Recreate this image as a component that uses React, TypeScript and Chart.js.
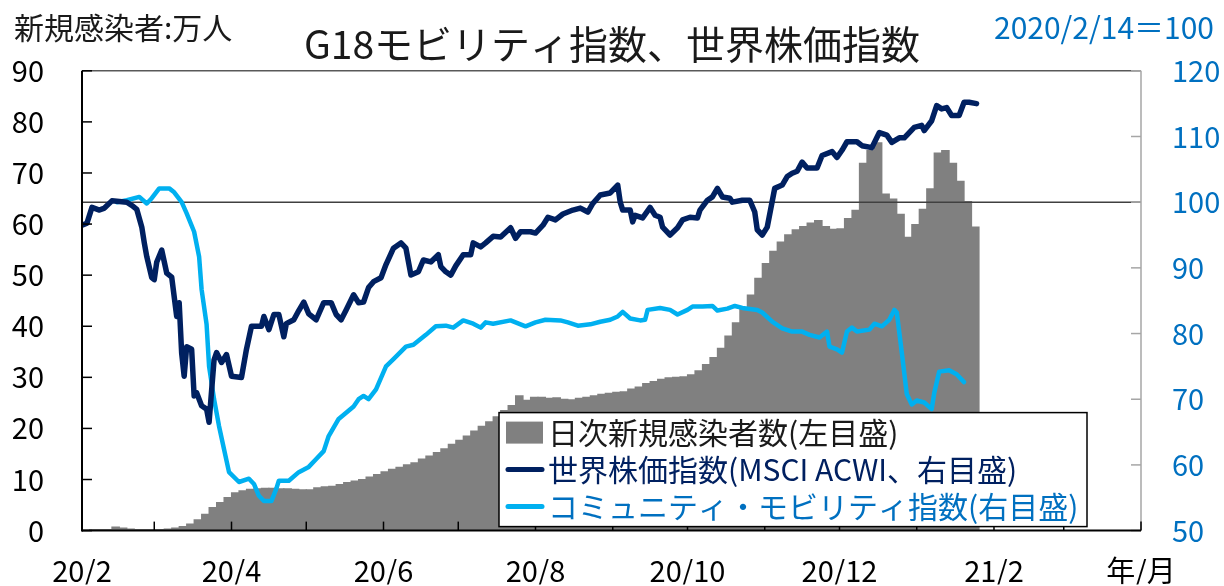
import React, { useEffect, useRef } from "react";
import { Chart, registerables } from "chart.js";

Chart.register(...registerables);

const FONT = '"Noto Sans CJK JP", "Noto Sans", sans-serif';

// ---- data (x = days since 2020/2/1) ----
// daily new infections (万人), one bar per 3-day period starting 2020/2/1
const caseStartDay = 0;
const caseStepDays = 3;
const dailyCases = [
  0.2, 0.3, 0.3, 0.3, 0.8, 0.6, 0.4, 0.3, 0.3, 0.3,
  0.3, 0.4, 0.6, 0.9, 1.4, 2.2, 3.3, 4.6, 5.6, 6.6,
  7.5, 7.9, 8.2, 8.3, 8.4, 8.4, 8.3, 8.3, 8.2, 8.1,
  8.1, 8.5, 8.7, 8.8, 9.1, 9.5, 9.8, 10.1, 10.6, 11.1,
  11.6, 12.1, 12.5, 13.0, 13.4, 14.1, 14.7, 15.4, 16.1, 17.0,
  17.8, 18.6, 19.6, 20.5, 21.4, 22.4, 23.6, 24.6, 26.5, 25.6,
  26.2, 26.2, 26.0, 26.1, 25.8, 25.7, 26.0, 26.2, 26.5, 26.8,
  27.0, 27.2, 27.3, 27.8, 28.2, 28.9, 29.3, 29.7, 30.0, 30.1,
  30.2, 30.6, 31.4, 32.6, 34.0, 35.8, 38.2, 40.8, 43.5, 46.2,
  49.5, 52.4, 54.8, 56.6, 58.0, 59.0, 59.6, 60.3, 60.8, 59.6,
  59.1, 59.2, 61.2, 62.8, 72.0, 74.5, 76.0, 66.0, 65.0, 62.0,
  57.5, 60.0, 63.0, 67.0, 74.0, 74.5, 72.0, 68.5, 64.5, 59.5,
];

// MSCI ACWI (2020/2/14 = 100)
const msciDays = [
  0, 2, 4, 7, 9, 12, 18, 20, 22, 24,
  25, 26, 28, 29, 30, 32, 34, 36, 38, 39,
  40, 41, 42, 44, 45, 46, 48, 50, 51, 53,
  54, 56, 58, 60, 64, 66, 68, 72, 73, 75,
  77, 79, 81, 82, 85, 87, 89, 91, 94, 97,
  100, 102, 104, 106, 109, 111, 113, 115, 117, 120,
  122, 125, 128, 130, 132, 135, 137, 140, 143, 144,
  146, 148, 150, 153, 156, 157, 160, 162, 165, 168,
  172, 174, 176, 180, 182, 185, 187, 190, 193, 197,
  200, 203, 205, 208, 212, 215, 216, 217, 220, 221,
  222, 225, 228, 230, 232, 233, 236, 239, 241, 244,
  247, 248, 251, 253, 255, 257, 260, 261, 265, 268,
  270, 271, 273, 275, 278, 281, 283, 285, 287, 289,
  291, 295, 297, 301, 303, 305, 307, 311, 313, 317,
  320, 323, 325, 328, 330, 334, 337, 338, 341, 343,
  345, 347, 349, 352, 354, 356, 359,
];
const msciValues = [
  96.5, 96.8, 99.2, 98.8, 99.1, 100.2, 100.0, 99.5, 98.9, 96.2,
  93.8, 91.7, 88.5, 88.2, 90.9, 92.7, 89.2, 88.6, 82.6, 84.7,
  77.0, 73.5, 78.0, 77.6, 70.5, 71.0, 69.0, 68.5, 66.5, 76.0,
  77.1, 75.6, 76.8, 73.5, 73.3, 77.6, 81.1, 81.1, 82.6, 80.6,
  82.9, 82.9, 79.5, 81.5, 82.1, 83.5, 84.8, 83.0, 82.1, 84.7,
  84.7, 82.9, 82.1, 83.6, 85.9, 84.7, 84.8, 87.0, 87.9, 88.5,
  90.5, 93.0, 93.8, 93.0, 88.9, 89.4, 91.2, 90.9, 92.0, 90.2,
  89.4, 88.9, 90.3, 92.0, 92.0, 93.8, 93.2, 93.8, 94.8, 94.7,
  96.1, 94.5, 95.5, 95.5, 95.3, 96.5, 97.7, 97.3, 98.2, 98.8,
  99.1, 98.5, 99.8, 101.1, 101.4, 102.6, 100.0, 98.8, 98.8, 97.0,
  98.0, 97.6, 99.2, 98.0, 97.7, 96.2, 95.0, 96.1, 97.3, 97.7,
  97.6, 98.8, 100.3, 100.8, 102.1, 100.8, 100.6, 100.0, 100.3, 100.3,
  98.5, 95.8, 95.0, 96.2, 102.1, 102.6, 103.9, 104.4, 104.7, 106.1,
  105.2, 105.2, 107.1, 107.7, 106.8, 107.9, 109.2, 109.2, 108.6, 108.3,
  110.6, 110.2, 109.1, 109.8, 109.8, 111.4, 111.7, 110.9, 112.4, 114.7,
  114.2, 114.4, 113.2, 113.2, 115.2, 115.2, 115.0,
];

// Community mobility index (2020/2/14 = 100)
const mobilityDays = [
  14, 18, 23, 26, 28, 31, 35, 37, 40, 42,
  45, 47, 48, 50, 51, 53, 55, 57, 59, 63,
  67, 69, 71, 73, 76, 78, 79, 83, 87, 91,
  94, 97, 99, 103, 109, 111, 113, 115, 118, 122,
  125, 130, 133, 138, 142, 146, 149, 153, 157, 160,
  162, 165, 172, 176, 178, 182, 186, 192, 195, 199,
  204, 208, 212, 215, 217, 220, 224, 226, 227, 232,
  236, 239, 243, 245, 249, 253, 255, 259, 262, 265,
  271, 273, 277, 281, 285, 289, 292, 296, 299, 300,
  303, 305, 307, 309, 311, 316, 318, 321, 324, 326,
  327, 329, 331, 333, 335, 338, 341, 342, 344, 348,
  351, 354,
];
const mobilityValues = [
  100.0, 100.3, 100.8, 99.8, 100.6, 102.1, 102.1, 101.5, 100.0, 98.3,
  95.5, 91.7, 86.7, 81.4, 75.0, 70.0, 65.9, 62.4, 58.9, 57.4,
  57.9, 57.1, 55.3, 54.5, 54.5, 56.4, 57.6, 57.6, 58.9, 59.7,
  60.9, 62.1, 64.4, 67.0, 68.9, 70.0, 70.5, 70.0, 71.5, 75.0,
  76.1, 78.0, 78.3, 79.8, 81.1, 81.2, 80.9, 82.0, 81.5, 80.9,
  81.7, 81.5, 82.0, 81.4, 81.1, 81.7, 82.1, 82.0, 81.7, 81.2,
  81.4, 81.8, 82.1, 82.6, 83.3, 82.3, 82.0, 82.1, 83.6, 83.9,
  83.6, 82.9, 83.6, 84.1, 84.1, 84.2, 83.5, 83.8, 84.2, 83.9,
  83.6, 83.2, 81.8, 80.8, 80.3, 80.3, 79.8, 79.4, 80.3, 78.0,
  77.6, 77.1, 80.3, 80.9, 80.3, 80.6, 81.5, 81.1, 82.1, 83.6,
  83.2, 77.1, 70.8, 69.2, 69.8, 69.5, 68.5, 70.9, 74.2, 74.4,
  73.8, 72.6,
];

const baseLevel = 100;
const xTickLabels = ["20/2", "20/4", "20/6", "20/8", "20/10", "20/12", "21/2", "年/月"];
const seriesLabels = [
  "日次新規感染者数(左目盛)",
  "世界株価指数(MSCI ACWI、右目盛)",
  "コミュニティ・モビリティ指数(右目盛)",
];
const titleText = "G18モビリティ指数、世界株価指数";
const leftUnitText = "新規感染者:万人";
const rightUnitText = "2020/2/14＝100";

// ---- styles ----
const GRAY = "#808080";
const NAVY = "#002060";
const CYAN = "#00b0f0";
const BLUE_TEXT = "#0070c0";

const DAY_MS = 86400000;
const monthStarts: number[] = [];
for (let m = 1; m <= 15; m++) {
  monthStarts.push(Math.round((Date.UTC(2020, m, 1) - Date.UTC(2020, 1, 1)) / DAY_MS));
}

const axesPlugin = {
  id: "axesDraw",
  afterDatasetsDraw(chart: any) {
    const { ctx, chartArea: a, scales } = chart;
    const line = (x1: number, y1: number, x2: number, y2: number) => {
      ctx.beginPath();
      ctx.moveTo(x1, y1);
      ctx.lineTo(x2, y2);
      ctx.stroke();
    };
    ctx.save();
    ctx.lineWidth = 1.5;
    ctx.strokeStyle = "#595959";
    line(a.left, a.top, a.right, a.top);
    ctx.strokeStyle = "#a6a6a6";
    line(a.right, a.top, a.right, a.bottom);
    scales.yR.ticks.forEach((t: any) => {
      const y = scales.yR.getPixelForValue(t.value);
      line(a.right - 10, y, a.right, y);
    });
    ctx.strokeStyle = "#000";
    ctx.lineWidth = 2;
    line(a.left, a.top, a.left, a.bottom + 1);
    line(a.left, a.bottom, a.right, a.bottom);
    ctx.lineWidth = 1.5;
    scales.yL.ticks.forEach((t: any) => {
      const y = scales.yL.getPixelForValue(t.value);
      line(a.left, y, a.left + 10, y);
    });
    scales.x.ticks.forEach((t: any) => {
      const x = scales.x.getPixelForValue(t.value);
      line(x, a.bottom, x, a.bottom - 9);
    });
    ctx.restore();
  },
};

const textPlugin = {
  id: "cornerTexts",
  afterDraw(chart: any) {
    const { ctx, chartArea: a } = chart;
    ctx.save();
    ctx.font = `30px ${FONT}`;
    ctx.textBaseline = "middle";
    ctx.fillStyle = "#1a1a1a";
    ctx.textAlign = "left";
    ctx.fillText(leftUnitText, 14, 28);
    ctx.fillStyle = BLUE_TEXT;
    ctx.textAlign = "right";
    ctx.fillText(rightUnitText, 1214, 28);

    // legend box
    const w = 588;
    const h = 114;
    const x0 = a.right - 54 - w;
    const y0 = a.bottom - 4 - h;
    ctx.fillStyle = "#fff";
    ctx.fillRect(x0, y0, w, h);
    ctx.strokeStyle = "#000";
    ctx.lineWidth = 1.5;
    ctx.strokeRect(x0, y0, w, h);
    const rows = [y0 + 20, y0 + 57, y0 + 94];
    const textColors = ["#1a1a1a", NAVY, BLUE_TEXT];
    ctx.textAlign = "left";
    ctx.font = `30px ${FONT}`;
    seriesLabels.forEach((lab, i) => {
      const cy = rows[i];
      if (i === 0) {
        ctx.fillStyle = GRAY;
        ctx.fillRect(x0 + 7, cy - 11, 37, 22);
      } else {
        ctx.strokeStyle = i === 1 ? NAVY : CYAN;
        ctx.lineWidth = 5;
        ctx.lineCap = "round";
        ctx.beginPath();
        ctx.moveTo(x0 + 9, cy);
        ctx.lineTo(x0 + 43, cy);
        ctx.stroke();
      }
      ctx.fillStyle = textColors[i];
      ctx.fillText(lab, x0 + 49, cy);
    });
    ctx.restore();
  },
};

export default function App() {
  const ref = useRef<HTMLCanvasElement | null>(null);
  useEffect(() => {
    if (!ref.current) return;
    const barData = dailyCases.map((v, i) => ({ x: caseStartDay + i * caseStepDays + caseStepDays / 2, y: v }));
    const msciData = msciDays.map((d, i) => ({ x: d, y: msciValues[i] }));
    const mobData = mobilityDays.map((d, i) => ({ x: d, y: mobilityValues[i] }));
    const lastDay = monthStarts[monthStarts.length - 1];
    const chart = new Chart(ref.current, {
      type: "bar",
      data: {
        datasets: [
          {
            type: "line",
            label: seriesLabels[1],
            data: msciData,
            yAxisID: "yR",
            borderColor: NAVY,
            borderWidth: 5.5,
            pointRadius: 0,
            tension: 0,
            borderJoinStyle: "round",
            borderCapStyle: "round",
            order: 0,
          } as any,
          {
            type: "line",
            label: seriesLabels[2],
            data: mobData,
            yAxisID: "yR",
            borderColor: CYAN,
            borderWidth: 4.5,
            pointRadius: 0,
            tension: 0,
            borderJoinStyle: "round",
            borderCapStyle: "round",
            order: 1,
          } as any,
          {
            type: "line",
            label: "",
            data: [
              { x: 0, y: baseLevel },
              { x: lastDay, y: baseLevel },
            ],
            yAxisID: "yR",
            borderColor: "#404040",
            borderWidth: 1.5,
            pointRadius: 0,
            order: 2,
          } as any,
          {
            type: "bar",
            label: seriesLabels[0],
            data: barData,
            yAxisID: "yL",
            backgroundColor: GRAY,
            borderWidth: 0,
            barPercentage: 1.15,
            categoryPercentage: 1,
            inflateAmount: 0,
            order: 3,
          } as any,
        ],
      },
      options: {
        responsive: false,
        devicePixelRatio: 1,
        animation: false,
        layout: { padding: 0 },
        plugins: {
          legend: { display: false },
          tooltip: { enabled: false },
          title: {
            display: true,
            text: titleText,
            color: "#1a1a1a",
            font: { family: FONT, size: 39, weight: "normal" },
            padding: { top: 21, bottom: 3 },
          },
        },
        scales: {
          x: {
            type: "linear",
            min: 0,
            max: lastDay,
            offset: false,
            grid: { display: false, drawTicks: false },
            border: { display: false },
            afterBuildTicks: (scale: any) => {
              scale.ticks = monthStarts.map((v) => ({ value: v }));
            },
            afterFit: (scale: any) => {
              scale.height = 54;
            },
            ticks: {
              autoSkip: false,
              maxRotation: 0,
              padding: 23,
              color: "#000",
              font: { family: FONT, size: 29 },
              callback: (_v: any, i: number) => (i % 2 === 0 ? xTickLabels[i / 2] : ""),
            },
          },
          yL: {
            type: "linear",
            position: "left",
            min: 0,
            max: 90,
            grid: { display: false, drawTicks: false },
            border: { display: false },
            afterFit: (scale: any) => {
              scale.width = 82;
            },
            ticks: {
              stepSize: 10,
              padding: 38,
              color: "#000",
              font: { family: FONT, size: 29 },
            },
          },
          yR: {
            type: "linear",
            position: "right",
            min: 50,
            max: 120,
            grid: { display: false, drawTicks: false },
            border: { display: false },
            afterFit: (scale: any) => {
              scale.width = 83;
            },
            ticks: {
              stepSize: 10,
              padding: 31,
              color: BLUE_TEXT,
              font: { family: FONT, size: 29 },
            },
          },
        },
      },
      plugins: [axesPlugin, textPlugin],
    } as any);
    return () => chart.destroy();
  }, []);
  return (
    <div style={{ position: "fixed", left: 0, top: 0, width: 1224, height: 586, background: "#fff" }}>
      <canvas ref={ref} width={1224} height={586} style={{ display: "block" }} />
    </div>
  );
}
